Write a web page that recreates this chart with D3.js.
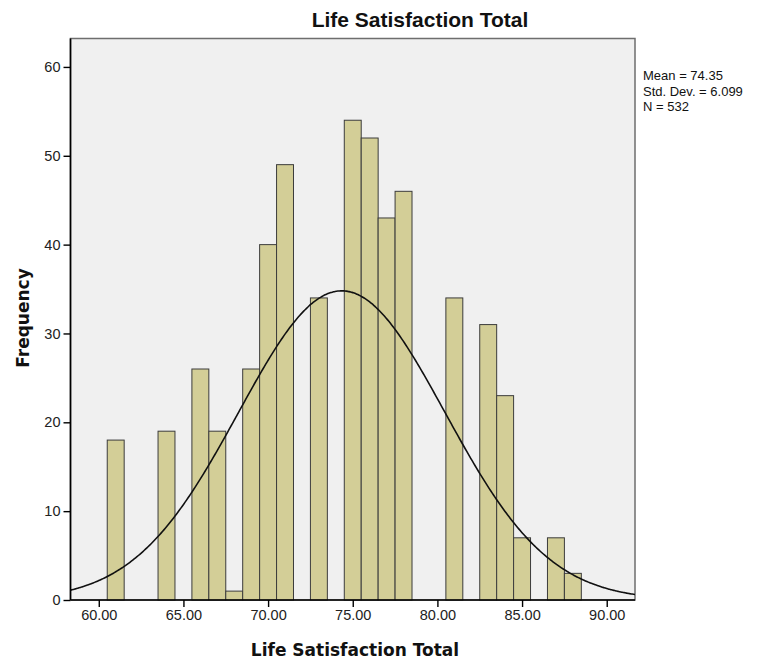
<!DOCTYPE html>
<html>
<head>
<meta charset="utf-8">
<script src="https://cdn.jsdelivr.net/npm/d3@7"></script>
<style>
  html, body { margin: 0; padding: 0; background: #fff; }
  svg { display: block; }
</style>
</head>
<body>
<svg id="chart" width="761" height="663"></svg>
<script>
// ---- data ----
const binCenters = [61, 64, 66, 67, 68, 69, 70, 71, 73, 75, 76, 77, 78, 81, 83, 84, 85, 87, 88];
const frequencies = [18, 19, 26, 19, 1, 26, 40, 49, 34, 54, 52, 43, 46, 34, 31, 23, 7, 7, 3];
const binWidth = 1;
const xTickValues = [60, 65, 70, 75, 80, 85, 90];
const yTickValues = [0, 10, 20, 30, 40, 50, 60];
const statsLines = ["Mean = 74.35", "Std. Dev. = 6.099", "N = 532"];
const mean = 74.35, sd = 6.099, n = 532;
const chartTitle = "Life Satisfaction Total";
const xTitle = "Life Satisfaction Total";
const yTitle = "Frequency";

// ---- layout ----
const svg = d3.select("#chart");
const L = 70.5, R = 635, T = 38.5, B = 600;

const x = d3.scaleLinear().domain([58.33, 91.67]).range([L, R]);
const y = d3.scaleLinear().domain([0, 63.2]).range([B, T]);

// plot background + frame
svg.append("rect").attr("x", L).attr("y", T).attr("width", R - L).attr("height", B - T)
  .attr("fill", "#f0f0f0").attr("stroke", "#6e6e6e").attr("stroke-width", 1.5);

svg.append("defs").append("clipPath").attr("id", "clip")
  .append("rect").attr("x", L).attr("y", T).attr("width", R - L).attr("height", B - T);

// bars
const data = binCenters.map((c, i) => ({ c, f: frequencies[i] }));
svg.append("g").selectAll("rect").data(data).join("rect")
  .attr("x", d => x(d.c - binWidth / 2))
  .attr("width", d => x(d.c + binWidth / 2) - x(d.c - binWidth / 2))
  .attr("y", d => y(d.f))
  .attr("height", d => y(0) - y(d.f))
  .attr("fill", "#d3ce97")
  .attr("stroke", "#3c3c3c")
  .attr("stroke-width", 1);

// normal curve
const dens = v => n * binWidth / (sd * Math.sqrt(2 * Math.PI)) * Math.exp(-0.5 * ((v - mean) / sd) ** 2);
const xs = d3.range(400).map(i => 58.33 + (91.67 - 58.33) * i / 399);
svg.append("path").attr("clip-path", "url(#clip)")
  .datum(xs)
  .attr("d", d3.line().x(v => x(v)).y(v => y(dens(v))).curve(d3.curveBasis))
  .attr("fill", "none").attr("stroke", "#111").attr("stroke-width", 1.6);

// axes
const xAxis = svg.append("g").attr("transform", `translate(0,${B})`)
  .call(d3.axisBottom(x).tickValues(xTickValues).tickFormat(d3.format(".2f")).tickSize(7).tickPadding(3));
const yAxis = svg.append("g").attr("transform", `translate(${L},0)`)
  .call(d3.axisLeft(y).tickValues(yTickValues).tickSize(7).tickPadding(3));
[xAxis, yAxis].forEach(g => {
  g.select(".domain").attr("stroke", "#000").attr("stroke-width", 1.6);
  g.selectAll(".tick line").attr("stroke", "#000").attr("stroke-width", 1.4);
  g.selectAll(".tick text").attr("fill", "#222")
    .style("font-family", "'Liberation Sans', Arial, sans-serif").style("font-size", "14.5px");
});
xAxis.select(".domain").attr("d", `M${L},0H${R}`);
yAxis.select(".domain").attr("d", `M0,${B}V${T}`);

// titles
svg.append("text").attr("x", 420).attr("y", 27).attr("text-anchor", "middle")
  .style("font-family", "'Liberation Sans', Arial, sans-serif").style("font-weight", "bold")
  .style("font-size", "21px").attr("fill", "#111").text(chartTitle);

svg.append("text").attr("x", 355).attr("y", 656).attr("text-anchor", "middle")
  .style("font-family", "'DejaVu Sans', sans-serif").style("font-weight", "bold")
  .style("font-size", "17px").attr("fill", "#111").text(xTitle);

svg.append("text").attr("transform", "translate(29,318) rotate(-90)").attr("text-anchor", "middle")
  .style("font-family", "'DejaVu Sans', sans-serif").style("font-weight", "bold")
  .style("font-size", "17px").attr("fill", "#111").text(yTitle);

// stats text
svg.append("g").selectAll("text").data(statsLines).join("text")
  .attr("x", 643).attr("y", (d, i) => 80 + i * 15.5)
  .style("font-family", "'Liberation Sans', Arial, sans-serif").style("font-size", "13px")
  .attr("fill", "#111").text(d => d);
</script>
</body>
</html>
